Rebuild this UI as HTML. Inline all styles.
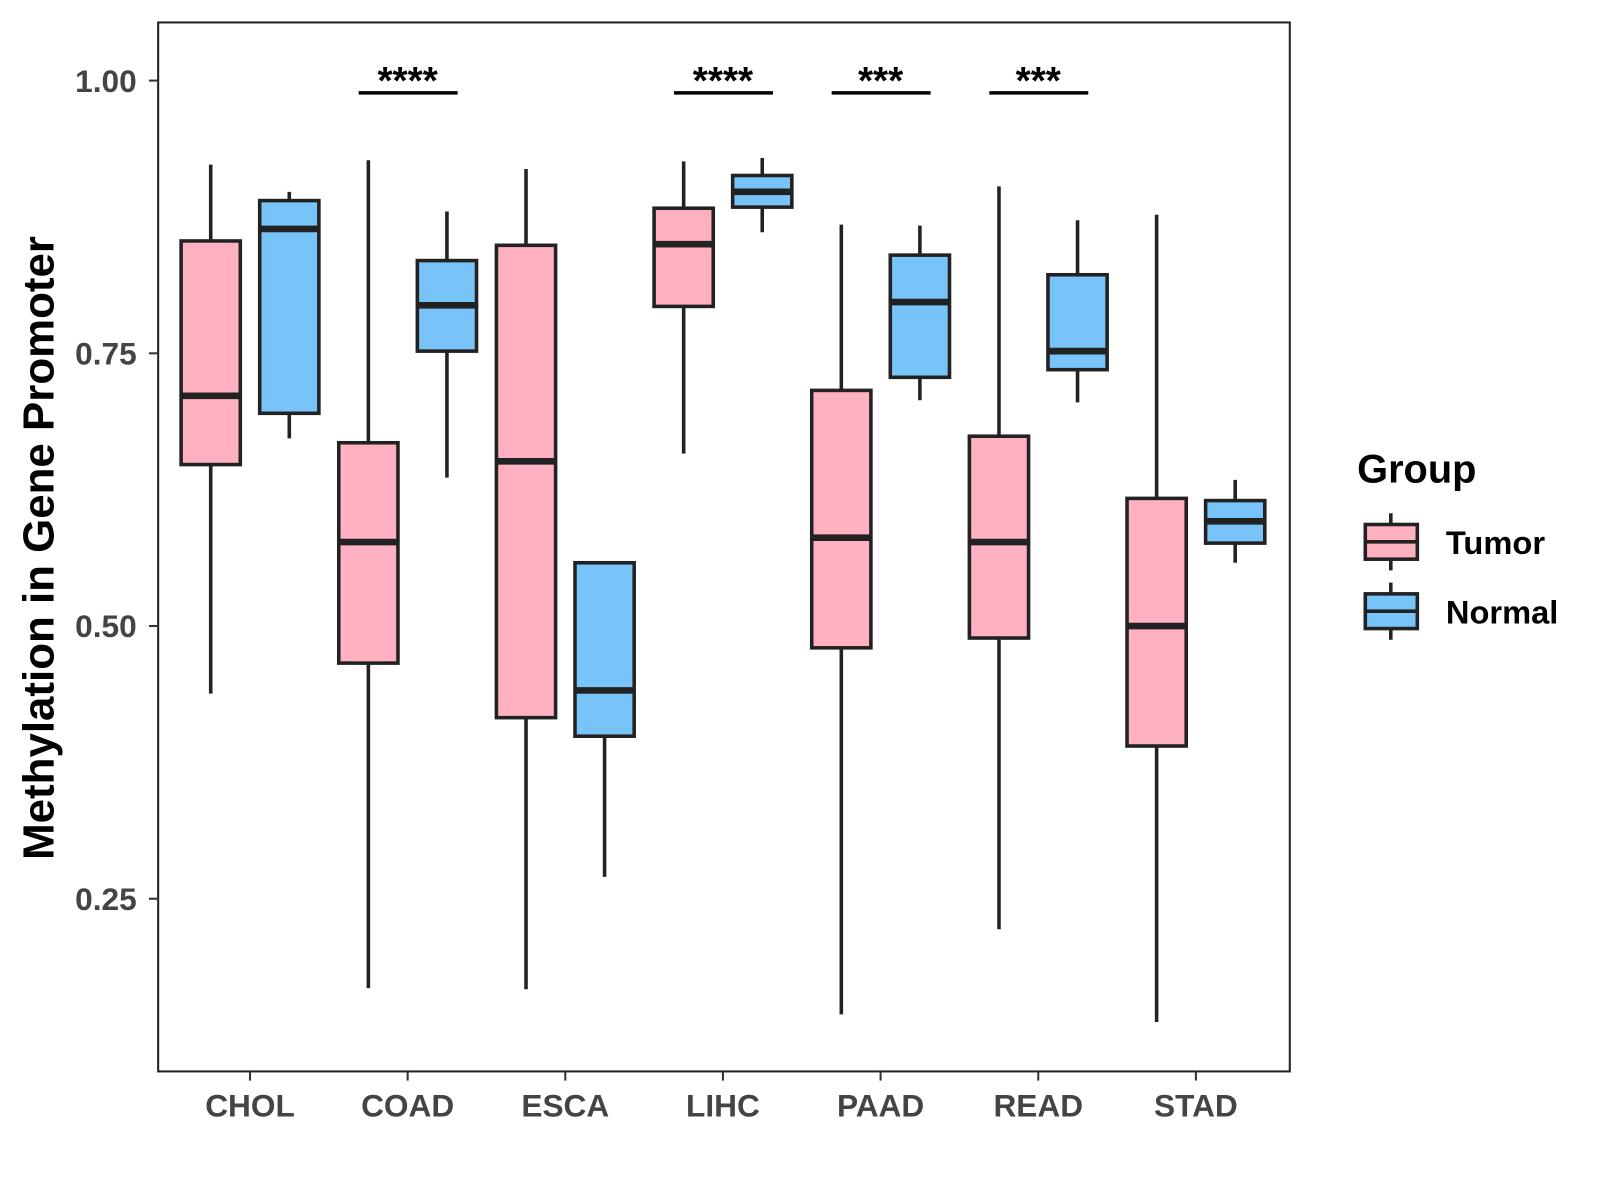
<!DOCTYPE html>
<html><head><meta charset="utf-8"><style>
html,body{margin:0;padding:0;background:#fff;}
svg{display:block;font-family:"Liberation Sans",Arial,sans-serif;}
</style></head><body>
<svg id="chart" width="1600" height="1200" viewBox="0 0 1600 1200">
<g transform="scale(1.0204)">
<rect x="155" y="22" width="1109" height="1028" fill="#fff" stroke="#222" stroke-width="2"/>
<g id="yaxis"></g>
<g id="xaxis"></g>
<g id="boxes"></g>
<g id="sig"></g>
<text x="38" y="537" transform="rotate(-90 38 537)" text-anchor="middle" dominant-baseline="central" font-size="43" font-weight="bold" fill="#000">Methylation in Gene Promoter</text>
<g>
<text x="1330" y="473" font-size="39" font-weight="bold" fill="#000">Group</text>
<g>
<line x1="1363" y1="503" x2="1363" y2="559" stroke="#222" stroke-width="3.5"/>
<rect x="1338" y="514" width="51" height="34" fill="#FFB0C1" stroke="#222" stroke-width="3.5"/>
<line x1="1338" y1="531" x2="1389" y2="531" stroke="#222" stroke-width="3.5"/>
<text x="1417" y="543" font-size="32" font-weight="bold" fill="#000">Tumor</text>
</g>
<g>
<line x1="1363" y1="571" x2="1363" y2="627" stroke="#222" stroke-width="3.5"/>
<rect x="1338" y="582" width="51" height="34" fill="#78C3F8" stroke="#222" stroke-width="3.5"/>
<line x1="1338" y1="599" x2="1389" y2="599" stroke="#222" stroke-width="3.5"/>
<text x="1417" y="611" font-size="32" font-weight="bold" fill="#000">Normal</text>
</g>
</g>
</g>
</svg>
<script>
const categories=["CHOL","COAD","ESCA","LIHC","PAAD","READ","STAD"];
const tumorLow=[0.438,0.168,0.167,0.658,0.144,0.222,0.137];
const tumorQ1=[0.648,0.466,0.416,0.793,0.480,0.489,0.390];
const tumorMed=[0.711,0.577,0.651,0.850,0.581,0.577,0.500];
const tumorQ3=[0.853,0.668,0.849,0.883,0.716,0.674,0.617];
const tumorHigh=[0.923,0.927,0.919,0.926,0.868,0.903,0.877];
const normalLow=[0.672,0.636,0.270,0.861,0.707,0.705,0.558];
const normalQ1=[0.695,0.752,0.399,0.884,0.728,0.735,0.576];
const normalMed=[0.864,0.794,0.441,0.898,0.797,0.752,0.596];
const normalQ3=[0.890,0.835,0.558,0.913,0.840,0.822,0.615];
const normalHigh=[0.898,0.880,0.558,0.929,0.867,0.872,0.634];
const sigLabels=["","****","","****","***","***",""];
const yTicks=[0.25,0.50,0.75,1.00];
const yTickLabels=["0.25","0.50","0.75","1.00"];

const NS="http://www.w3.org/2000/svg";
const yMin=0.0917,yMax=1.0533,plotTop=22,plotBottom=1050;
function y(v){return plotBottom-(v-yMin)/(yMax-yMin)*(plotBottom-plotTop);}
function x(i){return 245+i*154.5;}
function mk(tag,attrs,parent){const e=document.createElementNS(NS,tag);for(const k in attrs)e.setAttribute(k,attrs[k]);parent.appendChild(e);return e;}
const ya=document.getElementById('yaxis'),xa=document.getElementById('xaxis'),bx=document.getElementById('boxes'),sg=document.getElementById('sig');
yTicks.forEach((t,i)=>{
  const l=mk('line',{x1:146,x2:155,y1:y(t),y2:y(t),stroke:'#333','stroke-width':2},ya);
  
  
  const tx=mk('text',{x:134,y:y(t)+11,'text-anchor':'end','font-size':31,'font-weight':'bold',fill:'#444'},ya);
  tx.textContent=yTickLabels[i];
  
  
});
categories.forEach((c,i)=>{
  const l=mk('line',{x1:x(i),x2:x(i),y1:1050,y2:1059,stroke:'#333','stroke-width':2},xa);
  
  
  const tx=mk('text',{x:x(i),y:1094,'text-anchor':'middle','font-size':31,'font-weight':'bold',fill:'#444'},xa);
  tx.textContent=c;
  
  
});
function box(cx,lo,q1,md,q3,hi,fill,name){
  const g=mk('g',{},bx);
  
  
  const w=58;
  mk('line',{x1:cx,x2:cx,y1:y(hi),y2:y(lo),stroke:'#222','stroke-width':3.5},g);
  mk('rect',{x:cx-w/2,y:y(q3),width:w,height:y(q1)-y(q3),fill:fill,stroke:'#222','stroke-width':3.5},g);
  mk('line',{x1:cx-w/2,x2:cx+w/2,y1:y(md),y2:y(md),stroke:'#222','stroke-width':6.5},g);
}
categories.forEach((c,i)=>{
  box(x(i)-38.5,tumorLow[i],tumorQ1[i],tumorMed[i],tumorQ3[i],tumorHigh[i],'#FFB0C1','box-tumor-'+c.toLowerCase());
  box(x(i)+38.5,normalLow[i],normalQ1[i],normalMed[i],normalQ3[i],normalHigh[i],'#78C3F8','box-normal-'+c.toLowerCase());
  if(sigLabels[i]){
    const l=mk('line',{x1:x(i)-48,x2:x(i)+49,y1:91,y2:91,stroke:'#000','stroke-width':3.5},sg);
    
    
    const t=mk('text',{x:x(i),y:92,'text-anchor':'middle','font-size':38,'font-weight':'bold',fill:'#000'},sg);
    t.textContent=sigLabels[i];
    
    
  }
});
</script>
</body></html>
